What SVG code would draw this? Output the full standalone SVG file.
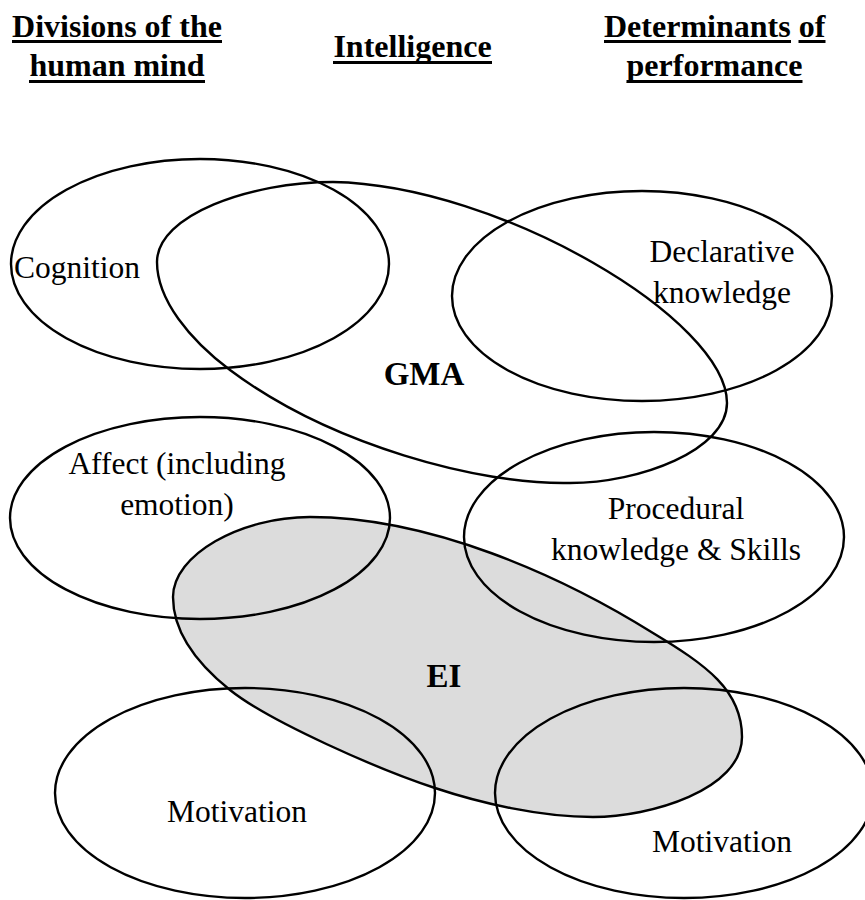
<svg xmlns="http://www.w3.org/2000/svg" width="865" height="900" viewBox="0 0 865 900">
<style>
.shape{fill:none;stroke:#000;stroke-width:2.4}
.ei{fill:#dcdcdc;stroke:#000;stroke-width:2.4}
.lbl{font-family:"Liberation Serif","Times New Roman",serif;font-size:31.5px;fill:#000}
.big{font-family:"Liberation Serif","Times New Roman",serif;font-size:33px;font-weight:bold;fill:#000}
.hdr{font-family:"Liberation Serif","Times New Roman",serif;font-size:32px;font-weight:bold;fill:#000}
.ul{fill:#000}
.mid{text-anchor:middle}
</style>
<rect width="865" height="900" fill="#fff"/>
<g id="headers">
  <text class="hdr mid" x="117" y="37">Divisions of the</text>
  <rect class="ul" x="12" y="40" width="210" height="3"/>
  <text class="hdr mid" x="117" y="76">human mind</text>
  <rect class="ul" x="29" y="80" width="176" height="3"/>
  <text class="hdr mid" x="412.5" y="57">Intelligence</text>
  <rect class="ul" x="333" y="61" width="159" height="3"/>
  <text class="hdr" x="604" y="37">Determinants of</text>
  <rect class="ul" x="604" y="40" width="187" height="3"/>
  <rect class="ul" x="798.5" y="40" width="27" height="3"/>
  <text class="hdr mid" x="714.5" y="76">performance</text>
  <rect class="ul" x="626.5" y="80" width="176" height="3"/>
</g>
<g id="ei">
  <path class="ei" d="M173,597 C173,555 240,517 310,517 C430,517 560,575 653,633 C706,665 742,690 742,737 C742,790 650,817 593,817 C540,817 480,803 435,788 C380,770 270,722 230,690 C195,662 173,630 173,597 Z"/>
  <text class="big mid" x="444" y="687">EI</text>
</g>
<g id="gma">
  <path class="shape" d="M157,262 C157,215 250,182 333,182 C500,185 727,320 727,403 C727,450 640,483 570,483 C480,485 330,445 230,370 C190,340 157,300 157,262 Z"/>
  <text class="big mid" x="424" y="385">GMA</text>
</g>
<g id="cognition">
  <ellipse class="shape" cx="200" cy="264" rx="189" ry="105"/>
  <text class="lbl" x="14" y="278">Cognition</text>
</g>
<g id="declarative">
  <ellipse class="shape" cx="642" cy="296" rx="190" ry="105"/>
  <text class="lbl mid" x="722" y="262">Declarative</text>
  <text class="lbl mid" x="722" y="303">knowledge</text>
</g>
<g id="affect">
  <ellipse class="shape" cx="200" cy="518" rx="190" ry="101"/>
  <text class="lbl mid" x="177" y="474">Affect (including</text>
  <text class="lbl mid" x="177" y="515">emotion)</text>
</g>
<g id="procedural">
  <ellipse class="shape" cx="654" cy="537" rx="190" ry="105"/>
  <text class="lbl mid" x="676" y="519">Procedural</text>
  <text class="lbl mid" x="676" y="560">knowledge &amp; Skills</text>
</g>
<g id="motivation-left">
  <ellipse class="shape" cx="245" cy="793" rx="190" ry="105"/>
  <text class="lbl mid" x="237" y="822">Motivation</text>
</g>
<g id="motivation-right">
  <ellipse class="shape" cx="684" cy="793" rx="189" ry="105"/>
  <text class="lbl mid" x="722" y="852">Motivation</text>
</g>
<g id="connectors"></g>
</svg>
